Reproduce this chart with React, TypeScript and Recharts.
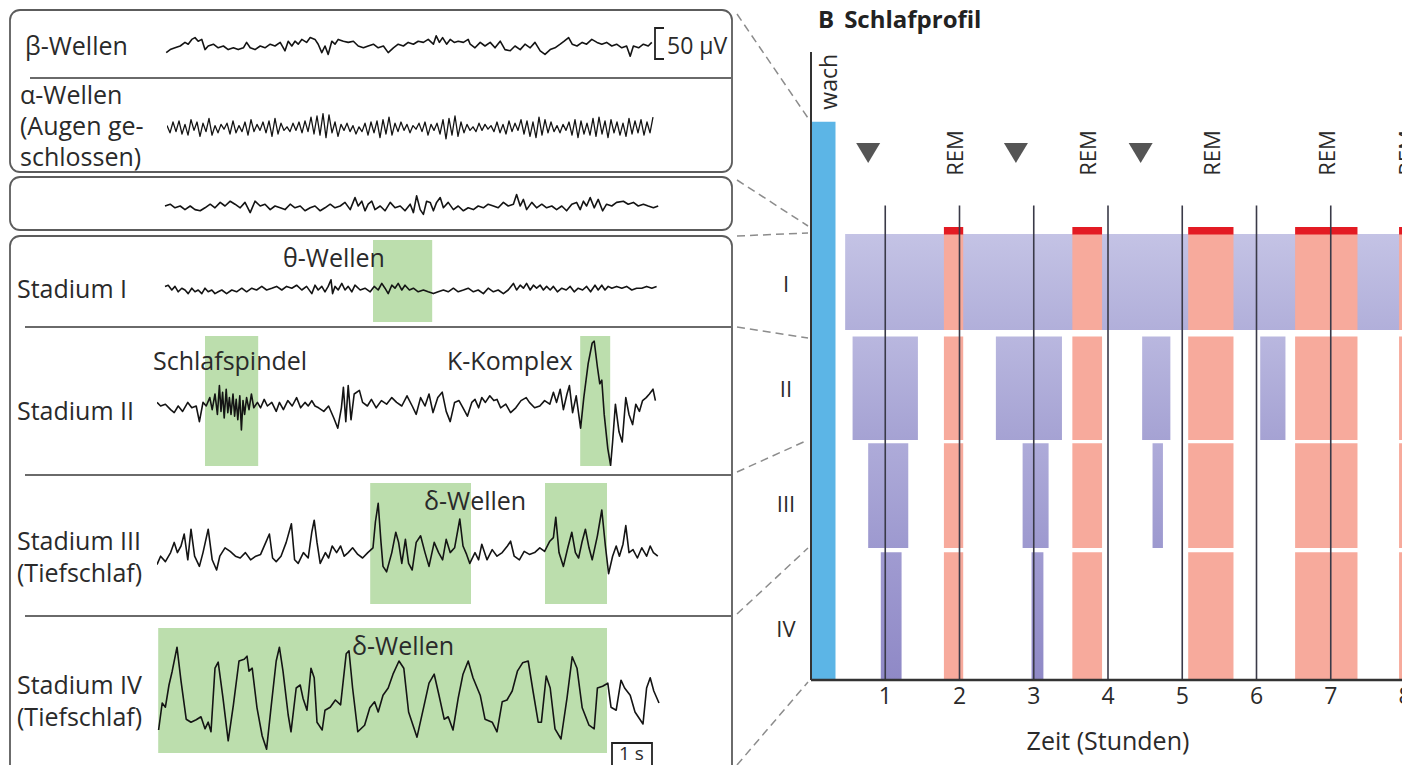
import React from 'react';
import {
  ComposedChart,
  LineChart,
  Line,
  Scatter,
  XAxis,
  YAxis,
  ReferenceArea,
  ReferenceLine,
  Label,
} from 'recharts';

type Pt = [number, number];
type Span = [number, number];

const FONT = '"Open Sans", "Noto Sans", sans-serif';
const INK = '#2a2a2a';

// EEG scale: 1 s = 40 px, 50 µV = 30 px
const PX_PER_SEC = 40;
const PX_PER_UV = 0.6;
const TRACE_SECONDS = 12.6;

// ---- EEG traces: [time (s), amplitude (µV)] ----
const betaWaves: Pt[] = [
  [0.08, -11], [0.18, -6], [0.3, -3], [0.43, 0], [0.55, 6], [0.63, 3], [0.72, 11], [0.8, 14], [0.88, 8], [0.97, 11],
  [1.05, -6], [1.13, 0], [1.26, 3], [1.38, -3], [1.51, 0], [1.63, -6], [1.76, -3], [1.88, -6], [2.01, -3], [2.09, 6],
  [2.18, -3], [2.3, -6], [2.43, 0], [2.55, -3], [2.68, 3], [2.8, 0], [2.93, 6], [3.05, -8], [3.13, 8], [3.22, 0],
  [3.3, 8], [3.38, 3], [3.47, 11], [3.59, 6], [3.68, 14], [3.8, 11], [3.88, 3], [3.97, -11], [4.05, 0], [4.13, -14],
  [4.22, 8], [4.3, 3], [4.38, 11], [4.51, 8], [4.63, 6], [4.76, 8], [4.88, 0], [5.01, -3], [5.13, 0], [5.26, 3],
  [5.38, -3], [5.51, 0], [5.63, -11], [5.76, -3], [5.88, 3], [6.01, 0], [6.13, 6], [6.26, 3], [6.38, 8], [6.51, 6],
  [6.63, 11], [6.76, 3], [6.83, 17], [6.91, 6], [6.99, 14], [7.09, 3], [7.18, 11], [7.28, 6], [7.38, 8], [7.51, 6],
  [7.63, 11], [7.68, 3], [7.8, -3], [7.93, 6], [8.05, 0], [8.18, 6], [8.3, -3], [8.43, 8], [8.55, -6], [8.68, -8],
  [8.8, 0], [8.93, -6], [9.05, 3], [9.18, -3], [9.3, 6], [9.43, -8], [9.55, -14], [9.68, -6], [9.8, -3], [9.93, 3],
  [10.03, 8], [10.14, 14], [10.23, 3], [10.35, 0], [10.48, 6], [10.59, 3], [10.72, 11], [10.85, 6], [10.97, 3], [11.09, 6],
  [11.22, 0], [11.34, 3], [11.47, -3], [11.59, 0], [11.68, -17], [11.76, 0], [11.89, -3], [12.01, 3], [12.13, 0], [12.22, 6],
];

// alpha is sampled evenly (dense 10 Hz rhythm)
const ALPHA_DT = 0.075;
const alphaValues: number[] = [
  4, -8, 10, -6, 12, -10, 6, -12, 14, -4,
  10, -14, 8, -6, 16, -12, 4, -8, 6, -2,
  8, -10, 12, -8, 4, -6, 10, -12, 14, -6,
  6, -4, 10, -8, 12, -14, 16, -10, 8, -4,
  2, -6, 8, -4, 10, -8, 12, -6, 18, -10,
  20, -12, 24, -16, 22, -8, 10, -14, 6, -4,
  8, -6, 4, -10, 2, -6, 8, -12, 10, -8,
  12, -16, 14, -10, 18, -12, 8, -6, 10, -4,
  6, -8, 4, -2, 8, -6, 10, -12, 6, -4,
  8, -10, 14, -18, 16, -12, 20, -14, 10, -8,
  6, -4, 2, -6, 8, -4, 6, -2, 4, -6,
  10, -8, 6, -10, 12, -6, 8, -4, 14, -10,
  12, -14, 10, -16, 18, -12, 14, -8, 10, -6,
  4, -8, 6, -4, 10, -12, 14, -16, 12, -10,
  8, -12, 16, -14, 18, -10, 12, -16, 14, -8,
  10, -12, 8, -14, 16, -10, 12, -8, 14, -12,
  10, -8, 18,
];

const drowsyWaves: Pt[] = [
  [0.05, 0], [0.18, 3], [0.3, -3], [0.43, 0], [0.55, -6], [0.68, 0], [0.8, -6], [0.93, -8], [1.05, -3], [1.18, 3],
  [1.3, -3], [1.43, 6], [1.55, 0], [1.68, 8], [1.8, 3], [1.93, -3], [2.05, 6], [2.18, -11], [2.3, 8], [2.43, 0],
  [2.55, 3], [2.68, -6], [2.8, 0], [2.93, -3], [3.05, -6], [3.18, 3], [3.3, -3], [3.43, 0], [3.55, -8], [3.68, -3],
  [3.8, 0], [3.93, -8], [4.05, -3], [4.18, 3], [4.3, -3], [4.43, 0], [4.55, 6], [4.68, -6], [4.8, 14], [4.88, 0],
  [4.97, 8], [5.05, -8], [5.13, 3], [5.22, 8], [5.3, -6], [5.43, 0], [5.55, -8], [5.68, 6], [5.8, -3], [5.93, 0],
  [6.05, -8], [6.18, 3], [6.26, -11], [6.34, 17], [6.43, -6], [6.51, -14], [6.59, 8], [6.68, 6], [6.76, -8], [6.84, 6],
  [6.93, 14], [7.01, -3], [7.13, 6], [7.26, -6], [7.38, 0], [7.51, -8], [7.63, -3], [7.76, -6], [7.88, 0], [8.01, -3],
  [8.13, 3], [8.26, 0], [8.38, -3], [8.51, 6], [8.63, 0], [8.76, 3], [8.84, 19], [8.93, 0], [9.01, 11], [9.09, -6],
  [9.22, 6], [9.34, -3], [9.47, 3], [9.59, -3], [9.72, 0], [9.84, -6], [9.97, 0], [10.09, -8], [10.22, 3], [10.34, 6],
  [10.43, -6], [10.51, 8], [10.59, 0], [10.68, 14], [10.78, -3], [10.88, 11], [10.99, -8], [11.09, 3], [11.22, 0], [11.34, 6],
  [11.51, 8], [11.63, 3], [11.76, 6], [11.88, 0], [12.01, 3], [12.13, 0], [12.26, -3], [12.38, 0],
];

const stageIWaves: Pt[] = [
  [0.05, 6], [0.13, 8], [0.22, 0], [0.3, 6], [0.38, -3], [0.47, 3], [0.55, 0], [0.63, -6], [0.72, 3], [0.8, -3],
  [0.88, 0], [0.97, -6], [1.05, 3], [1.13, -3], [1.22, 0], [1.3, -6], [1.38, -3], [1.47, 0], [1.59, -6], [1.72, 0],
  [1.84, -3], [1.97, 3], [2.09, -3], [2.22, 3], [2.34, 0], [2.47, 6], [2.59, 0], [2.72, 3], [2.84, 6], [2.97, 0],
  [3.09, 6], [3.22, 3], [3.34, 8], [3.47, 0], [3.59, 6], [3.72, -6], [3.8, 8], [3.88, 0], [3.97, 6], [4.05, -3],
  [4.13, 6], [4.2, 17], [4.24, -6], [4.3, 6], [4.38, 0], [4.47, 11], [4.55, 0], [4.63, 6], [4.72, -3], [4.8, 8],
  [4.93, 0], [5.05, 3], [5.18, -3], [5.28, 6], [5.38, 0], [5.47, 11], [5.55, 3], [5.63, -6], [5.72, 8], [5.8, 3],
  [5.88, 11], [5.97, 0], [6.05, 8], [6.16, 0], [6.26, 3], [6.38, -3], [6.51, 0], [6.63, -3], [6.76, -6], [6.88, -3],
  [7.01, 0], [7.13, -3], [7.26, 3], [7.38, -3], [7.51, 0], [7.63, 3], [7.76, -3], [7.88, 0], [8.01, -6], [8.13, 3],
  [8.26, -3], [8.38, 0], [8.51, -6], [8.63, 0], [8.76, 11], [8.84, 0], [8.93, 8], [9.01, 3], [9.09, 11], [9.18, 0],
  [9.26, 8], [9.34, 3], [9.43, 8], [9.51, 0], [9.59, 6], [9.68, 0], [9.76, 6], [9.86, -3], [9.97, 3], [10.08, 0],
  [10.18, 6], [10.28, -3], [10.38, 3], [10.49, 0], [10.59, 6], [10.69, -3], [10.8, 8], [10.88, 0], [10.97, 8], [11.05, 0],
  [11.13, 6], [11.22, 3], [11.34, 6], [11.47, 3], [11.59, 6], [11.72, 0], [11.84, 3], [11.97, 3], [12.09, 6], [12.22, 3],
  [12.34, 6],
];

const stageIIWaves: Pt[] = [
  [0, 6], [0.09, 0], [0.21, 3], [0.34, -6], [0.43, -11], [0.53, 0], [0.64, -9], [0.77, 6], [0.87, -3], [0.98, 0],
  [1.06, -26], [1.15, 6], [1.23, 0], [1.32, 14], [1.38, -6], [1.45, 20], [1.51, -14], [1.56, 34], [1.6, -9], [1.64, 23],
  [1.68, -20], [1.73, 28], [1.77, -11], [1.81, 14], [1.85, -14], [1.9, 20], [1.94, -17], [1.98, 11], [2.02, -23], [2.07, 17],
  [2.11, -40], [2.15, 9], [2.19, -14], [2.24, 14], [2.3, -6], [2.36, 20], [2.42, -3], [2.51, 6], [2.59, -3], [2.68, 11],
  [2.76, 0], [2.87, 6], [2.98, -9], [3.06, 6], [3.16, -6], [3.27, 9], [3.38, 0], [3.49, 14], [3.59, -3], [3.7, 6],
  [3.78, 0], [3.87, 9], [3.95, 0], [4.04, -3], [4.17, -9], [4.29, 0], [4.42, -20], [4.52, -37], [4.61, -3], [4.66, 31],
  [4.72, -26], [4.78, 34], [4.85, -23], [4.93, 20], [5.06, 26], [5.14, 6], [5.26, 0], [5.36, 11], [5.48, -3], [5.61, 9],
  [5.74, 3], [5.87, 14], [5.99, 6], [6.12, 0], [6.25, 17], [6.38, 0], [6.48, -14], [6.59, 14], [6.7, 0], [6.8, 20],
  [6.9, -11], [7.02, 14], [7.13, 23], [7.23, -9], [7.33, -26], [7.44, 6], [7.55, 9], [7.65, -3], [7.76, -17], [7.87, 6],
  [7.95, 11], [8.04, -3], [8.12, 14], [8.21, 6], [8.32, 17], [8.42, 9], [8.5, 11], [8.59, -3], [8.72, 3], [8.84, -11],
  [8.97, -3], [9.1, 9], [9.23, 14], [9.31, 6], [9.44, -3], [9.57, 0], [9.69, 9], [9.82, 3], [9.91, 23], [9.99, 6],
  [10.08, 28], [10.16, -6], [10.25, 20], [10.31, 34], [10.39, -11], [10.48, 17], [10.59, -37], [10.67, 14], [10.78, 71], [10.88, 105],
  [10.93, 108], [11.01, 65], [11.07, 37], [11.12, 43], [11.18, -14], [11.27, -71], [11.34, -99], [11.39, -60], [11.46, 3], [11.55, -43],
  [11.63, -60], [11.72, 14], [11.8, -14], [11.89, -31], [11.97, 3], [12.06, -9], [12.14, 9], [12.23, 14], [12.31, 20], [12.4, 28],
  [12.46, 9],
];

const stageIIIWaves: Pt[] = [
  [0, -11], [0.09, 3], [0.21, -6], [0.34, 9], [0.43, 26], [0.51, 9], [0.6, 20], [0.68, 40], [0.77, -3], [0.85, 48],
  [0.94, 3], [1.06, -14], [1.15, 9], [1.28, 48], [1.38, -3], [1.49, -20], [1.57, 3], [1.7, 17], [1.83, 11], [1.96, 3],
  [2.08, 0], [2.21, 9], [2.34, -3], [2.47, 3], [2.59, 6], [2.72, 26], [2.81, 40], [2.89, 0], [2.98, -6], [3.1, 3],
  [3.23, 26], [3.36, 57], [3.44, -3], [3.53, -9], [3.66, 9], [3.78, 0], [3.87, 43], [3.93, 63], [4.0, 26], [4.08, -9],
  [4.21, 9], [4.29, 0], [4.38, 20], [4.49, 9], [4.59, 20], [4.68, 3], [4.78, 9], [4.89, 17], [5.02, 6], [5.14, 0],
  [5.27, 9], [5.4, 17], [5.46, 60], [5.53, 91], [5.6, 26], [5.65, -14], [5.74, -23], [5.87, 9], [5.97, 43], [6.04, 26],
  [6.12, -9], [6.21, 31], [6.29, -9], [6.38, -20], [6.48, 26], [6.59, 37], [6.7, 9], [6.8, -14], [6.93, 26], [7.04, 9],
  [7.14, -3], [7.23, 31], [7.33, 9], [7.44, 17], [7.57, 65], [7.65, 20], [7.74, 6], [7.82, -9], [7.95, 9], [8.04, -3],
  [8.12, 23], [8.25, -3], [8.38, 14], [8.5, 3], [8.63, 9], [8.76, 20], [8.84, 28], [8.93, 3], [9.06, -3], [9.18, 11],
  [9.31, 6], [9.44, 9], [9.57, 17], [9.69, 11], [9.82, 28], [9.91, 34], [9.97, 68], [10.05, 9], [10.16, -14], [10.27, 17],
  [10.37, 43], [10.46, 9], [10.54, 0], [10.63, 28], [10.71, 48], [10.8, 17], [10.88, -3], [11.01, 37], [11.12, 80], [11.21, 20],
  [11.29, -26], [11.39, 3], [11.48, 20], [11.56, 3], [11.65, 23], [11.72, 54], [11.8, 9], [11.9, 14], [12.01, 0], [12.12, 17],
  [12.24, 3], [12.33, 20], [12.41, 9], [12.52, 3],
];

const stageIVWaves: Pt[] = [
  [0.04, -50], [0.13, -5], [0.21, -12], [0.3, 25], [0.38, 48], [0.5, 88], [0.6, 32], [0.73, -32], [0.85, -37], [0.98, -33],
  [1.1, -28], [1.2, -48], [1.28, -37], [1.35, -53], [1.45, 53], [1.53, 63], [1.65, 3], [1.78, -68], [1.91, -8], [2.05, 65],
  [2.18, 68], [2.25, 73], [2.3, 48], [2.38, 53], [2.5, -13], [2.63, -60], [2.74, -82], [2.85, -13], [2.98, 65], [3.06, 88],
  [3.15, 48], [3.28, -25], [3.35, -53], [3.48, 20], [3.58, 25], [3.65, 3], [3.75, -17], [3.85, 53], [3.93, 37], [4.0, -37],
  [4.13, -50], [4.2, -17], [4.33, -12], [4.46, 0], [4.59, -8], [4.73, 77], [4.8, 82], [4.89, 20], [5.02, -53], [5.19, -42],
  [5.32, -13], [5.44, -3], [5.53, -20], [5.65, 8], [5.78, 20], [5.9, 43], [6.05, 65], [6.17, 53], [6.29, -20], [6.5, -62],
  [6.68, -8], [6.8, 28], [6.93, 43], [7.05, 8], [7.18, -32], [7.28, -28], [7.4, -50], [7.53, 3], [7.65, 43], [7.78, 65],
  [7.9, 37], [8.08, 8], [8.2, -32], [8.38, -37], [8.5, -53], [8.63, -3], [8.75, 0], [8.88, 15], [9.01, 48], [9.14, 62],
  [9.28, 65], [9.4, 15], [9.53, -37], [9.61, -37], [9.73, 40], [9.83, 20], [9.95, -48], [10.1, -65], [10.25, 3], [10.38, 72],
  [10.5, 53], [10.63, -13], [10.8, -42], [10.93, -48], [11.01, 20], [11.14, 23], [11.27, 28], [11.35, -12], [11.48, -17], [11.6, 33],
  [11.69, 20], [11.83, 8], [11.95, -20], [12.15, -40], [12.24, 20], [12.33, 37], [12.42, 15], [12.55, -5],
];

// highlighted wave patterns, [from, to] in seconds of each trace
const thetaSpans: Span[] = [[5.25, 6.73]];
const spindleSpans: Span[] = [[1.2, 2.53], [10.58, 11.33]];
const delta3Spans: Span[] = [[5.33, 7.85], [9.7, 11.25]];
const delta4Spans: Span[] = [[0.03, 11.25]];

// ---- Schlafprofil: episodes [start h, end h] ----
const wakeSpans: Span[] = [[0, 0.33]];
const stageISpans: Span[] = [[0.46, 8]];
const stageIISpans: Span[] = [[0.56, 1.44], [2.49, 3.38], [4.46, 4.84], [6.05, 6.39]];
const stageIIISpans: Span[] = [[0.77, 1.31], [2.85, 3.2], [4.6, 4.74]];
const stageIVSpans: Span[] = [[0.94, 1.22], [2.97, 3.13]];
const remSpans: Span[] = [[1.79, 2.05], [3.52, 3.92], [5.08, 5.69], [6.52, 7.36], [7.92, 8.1]];
const cycleMarks: number[] = [0.77, 2.76, 4.44];
const hourTicks: number[] = [1, 2, 3, 4, 5, 6, 7, 8];
const hourLines: number[] = [1, 2, 3, 4, 5, 6, 7];
const stageNames: string[] = ['I', 'II', 'III', 'IV'];

// vertical layout of the hypnogram (axis units, 0 = top of "wach")
const Y_DOMAIN: [number, number] = [-0.65, 5.2];
const BAND: Record<string, Span> = {
  I: [1.045, 1.94],
  II: [2.0, 2.965],
  III: [2.995, 3.97],
  IV: [4.01, 5.2],
};
const REM_CAP: Span = [0.98, 1.05];
const STAGE_TICKS = [1.5, 2.48, 3.55, 4.72];
const MARK_Y = 0.29;

function Trace({
  points,
  left,
  top,
  height,
  base,
  spans = [],
  strokeWidth = 1.6,
}: {
  points: Pt[];
  left: number;
  top: number;
  height: number;
  base: number;
  spans?: Span[];
  strokeWidth?: number;
}) {
  const data = points.map(([t, v]) => ({ t, v }));
  const yMax = (base - top) / PX_PER_UV;
  const yMin = -(top + height - base) / PX_PER_UV;
  return (
    <div style={{ position: 'absolute', left, top }}>
      <LineChart
        width={TRACE_SECONDS * PX_PER_SEC}
        height={height}
        data={data}
        margin={{ top: 0, right: 0, bottom: 0, left: 0 }}
      >
        <XAxis type="number" dataKey="t" domain={[0, TRACE_SECONDS]} allowDataOverflow hide />
        <YAxis type="number" domain={[yMin, yMax]} allowDataOverflow hide />
        {spans.map(([a, b], i) => (
          <ReferenceArea
            key={i}
            x1={a}
            x2={b}
            y1={yMin}
            y2={yMax}
            fill="#bcdead"
            fillOpacity={1}
            stroke="none"
            ifOverflow="visible"
          />
        ))}
        <Line
          type="linear"
          dataKey="v"
          stroke="#141414"
          strokeWidth={strokeWidth}
          strokeLinejoin="round"
          dot={false}
          isAnimationActive={false}
        />
      </LineChart>
    </div>
  );
}

const triangleShape = (props: any) => {
  const { cx, cy } = props;
  return <path d={`M${cx - 12},${cy - 10} L${cx + 12},${cy - 10} L${cx},${cy + 10} Z`} fill="#555" />;
};

const remLabelShape = (props: any) => {
  const { cx, cy } = props;
  return (
    <text
      x={cx}
      y={cy}
      transform={`rotate(-90, ${cx}, ${cy})`}
      textAnchor="middle"
      dominantBaseline="central"
      fontSize={22}
      fill={INK}
    >
      REM
    </text>
  );
};

const stageTick = (props: any) => {
  const { x, y, payload } = props;
  const idx = STAGE_TICKS.indexOf(payload.value);
  return (
    <text x={x - 17} y={y} textAnchor="middle" dominantBaseline="central" fontSize={22} fill={INK}>
      {stageNames[idx]}
    </text>
  );
};

const wachLabel = (props: any) => {
  const vb = props.viewBox || {};
  const cx = vb.x + vb.width / 2 + 5;
  const cy = vb.y - 40;
  return (
    <text
      x={cx}
      y={cy}
      transform={`rotate(-90, ${cx}, ${cy})`}
      textAnchor="middle"
      dominantBaseline="central"
      fontSize={23}
      fill={INK}
    >
      wach
    </text>
  );
};

function Hypnogram() {
  const marks = cycleMarks.map((x) => ({ x, y: MARK_Y }));
  const remLabels = remSpans.map(([a, b]) => ({ x: (a + b) / 2, y: MARK_Y }));
  const stageBlocks: { spans: Span[]; band: Span; fill: string }[] = [
    { spans: stageISpans, band: BAND.I, fill: 'url(#gradI)' },
    { spans: stageIISpans, band: BAND.II, fill: 'url(#gradII)' },
    { spans: stageIIISpans, band: BAND.III, fill: 'url(#gradIII)' },
    { spans: stageIVSpans, band: BAND.IV, fill: 'url(#gradIV)' },
  ];
  const bands = [BAND.I, BAND.II, BAND.III, BAND.IV];
  return (
    <div style={{ position: 'absolute', left: 770, top: 0 }}>
      <ComposedChart width={635} height={765} margin={{ top: 52, right: 0, bottom: 0, left: 0 }}>
        <defs>
          <linearGradient id="gradI" x1="0" y1="0" x2="0" y2="1">
            <stop offset="0%" stopColor="#c4c3e5" />
            <stop offset="100%" stopColor="#b1afda" />
          </linearGradient>
          <linearGradient id="gradII" x1="0" y1="0" x2="0" y2="1">
            <stop offset="0%" stopColor="#b9b7df" />
            <stop offset="100%" stopColor="#a5a2d3" />
          </linearGradient>
          <linearGradient id="gradIII" x1="0" y1="0" x2="0" y2="1">
            <stop offset="0%" stopColor="#aeabd9" />
            <stop offset="100%" stopColor="#9d99cf" />
          </linearGradient>
          <linearGradient id="gradIV" x1="0" y1="0" x2="0" y2="1">
            <stop offset="0%" stopColor="#a09bd1" />
            <stop offset="100%" stopColor="#8f89c6" />
          </linearGradient>
        </defs>
        <XAxis
          type="number"
          dataKey="x"
          domain={[0, 8]}
          ticks={hourTicks}
          interval={0}
          allowDataOverflow
          height={85}
          tickLine={false}
          axisLine={{ stroke: '#333', strokeWidth: 2.5 }}
          tick={{ fontSize: 23, fill: INK }}
        >
          <Label value="Zeit (Stunden)" position="insideBottom" offset={15} fontSize={25} fill={INK} />
        </XAxis>
        <YAxis
          type="number"
          dataKey="y"
          domain={Y_DOMAIN}
          reversed
          allowDataOverflow
          width={41}
          ticks={STAGE_TICKS}
          interval={0}
          tickLine={false}
          axisLine={{ stroke: '#333', strokeWidth: 2 }}
          tick={stageTick}
        />
        {wakeSpans.map(([a, b], i) => (
          <ReferenceArea
            key={`w${i}`}
            x1={a}
            x2={b}
            y1={0}
            y2={Y_DOMAIN[1]}
            fill="#5cb5e6"
            fillOpacity={1}
            stroke="none"
            ifOverflow="hidden"
            label={wachLabel}
          />
        ))}
        {stageBlocks.map((blk, k) =>
          blk.spans.map(([a, b], i) => (
            <ReferenceArea
              key={`s${k}-${i}`}
              x1={a}
              x2={b}
              y1={blk.band[0]}
              y2={blk.band[1]}
              fill={blk.fill}
              fillOpacity={1}
              stroke="none"
              ifOverflow="hidden"
            />
          ))
        )}
        {remSpans.map(([a, b], i) =>
          bands.map((band, k) => (
            <ReferenceArea
              key={`r${i}-${k}`}
              x1={a}
              x2={b}
              y1={band[0]}
              y2={band[1]}
              fill="#f7aa9c"
              fillOpacity={1}
              stroke="none"
              ifOverflow="hidden"
            />
          ))
        )}
        {remSpans.map(([a, b], i) => (
          <ReferenceArea
            key={`c${i}`}
            x1={a}
            x2={b}
            y1={REM_CAP[0]}
            y2={REM_CAP[1]}
            fill="#e31b23"
            fillOpacity={1}
            stroke="none"
            ifOverflow="hidden"
          />
        ))}
        {hourLines.map((h) => (
          <ReferenceLine
            key={`h${h}`}
            segment={[
              { x: h, y: 0.78 },
              { x: h, y: Y_DOMAIN[1] },
            ]}
            stroke="#3a3a48"
            strokeWidth={1.6}
            ifOverflow="visible"
          />
        ))}
        <Scatter data={marks} shape={triangleShape} isAnimationActive={false} />
        <Scatter data={remLabels} shape={remLabelShape} isAnimationActive={false} />
      </ComposedChart>
    </div>
  );
}

export default function App() {
  const txt = { fontSize: 25, fill: INK } as const;
  const box = { fill: '#fff', stroke: '#5c5c5c', strokeWidth: 1.8 } as const;
  const sep = { stroke: '#6a6a6a', strokeWidth: 2 } as const;
  const dash = { stroke: '#8c8c8c', strokeWidth: 1.5, strokeDasharray: '8 5' } as const;
  return (
    <div
      style={{
        position: 'absolute',
        left: 0,
        top: 0,
        width: 1402,
        height: 765,
        overflow: 'hidden',
        background: '#fff',
        fontFamily: FONT,
      }}
    >
      <svg width={1402} height={765} style={{ position: 'absolute', left: 0, top: 0 }}>
        <rect x={10} y={10} width={722} height={162} rx={10} {...box} />
        <line x1={30} y1={78} x2={732} y2={78} {...sep} />
        <rect x={10} y={177} width={722} height={53} rx={10} {...box} />
        <rect x={10} y={236} width={722} height={560} rx={10} {...box} />
        <line x1={25} y1={327} x2={732} y2={327} {...sep} />
        <line x1={25} y1={475} x2={732} y2={475} {...sep} />
        <line x1={25} y1={616} x2={732} y2={616} {...sep} />
        <line x1={737} y1={14} x2={808} y2={118} {...dash} />
        <line x1={737} y1={180} x2={808} y2={226} {...dash} />
        <line x1={737} y1={236} x2={808} y2={233} {...dash} />
        <line x1={737} y1={327} x2={808} y2={338} {...dash} />
        <line x1={737} y1={472} x2={808} y2={440} {...dash} />
        <line x1={737} y1={614} x2={808} y2={548} {...dash} />
        <line x1={737} y1={765} x2={808} y2={682} {...dash} />
      </svg>

      <Trace points={betaWaves} left={163} top={25} height={42} base={46} />
      <Trace
        points={alphaValues.map((v, i) => [i * ALPHA_DT, v] as Pt)}
        left={167}
        top={105}
        height={45}
        base={128}
        strokeWidth={1.3}
      />
      <Trace points={drowsyWaves} left={163} top={190} height={32} base={206} />
      <Trace points={stageIWaves} left={163} top={240} height={82} base={290} spans={thetaSpans} />
      <Trace points={stageIIWaves} left={157} top={336} height={130} base={406} spans={spindleSpans} />
      <Trace points={stageIIIWaves} left={157} top={483} height={121} base={558} spans={delta3Spans} />
      <Trace points={stageIVWaves} left={157} top={628} height={125} base={700} spans={delta4Spans} />

      <svg width={1402} height={765} style={{ position: 'absolute', left: 0, top: 0 }}>
        <g dominantBaseline="central" {...txt}>
          <text x={25} y={45}>β-Wellen</text>
          <text x={20} y={94}>α-Wellen</text>
          <text x={20} y={125}>(Augen ge-</text>
          <text x={20} y={156}>schlossen)</text>
          <text x={17} y={288}>Stadium I</text>
          <text x={17} y={410}>Stadium II</text>
          <text x={17} y={540}>Stadium III</text>
          <text x={17} y={572}>(Tiefschlaf)</text>
          <text x={17} y={684}>Stadium IV</text>
          <text x={17} y={716}>(Tiefschlaf)</text>
          <text x={283} y={257}>θ-Wellen</text>
          <text x={153} y={360}>Schlafspindel</text>
          <text x={447} y={360}>K-Komplex</text>
          <text x={424} y={500}>δ-Wellen</text>
          <text x={352} y={645}>δ-Wellen</text>
          <text x={667} y={45} fontSize={23}>50 µV</text>
          <text x={619} y={753} fontSize={19}>1 s</text>
        </g>
        <path d="M664,28 L655,28 L655,59 L664,59" fill="none" stroke="#222" strokeWidth={1.8} />
        <path d="M612,766 L612,743 L652,743 L652,766" fill="none" stroke="#222" strokeWidth={1.8} />
        <text x={818} y={18} dominantBaseline="central" fontSize={24} fontWeight={700} fill="#222">
          B<tspan dx={10}>Schlafprofil</tspan>
        </text>
      </svg>

      <Hypnogram />
    </div>
  );
}
